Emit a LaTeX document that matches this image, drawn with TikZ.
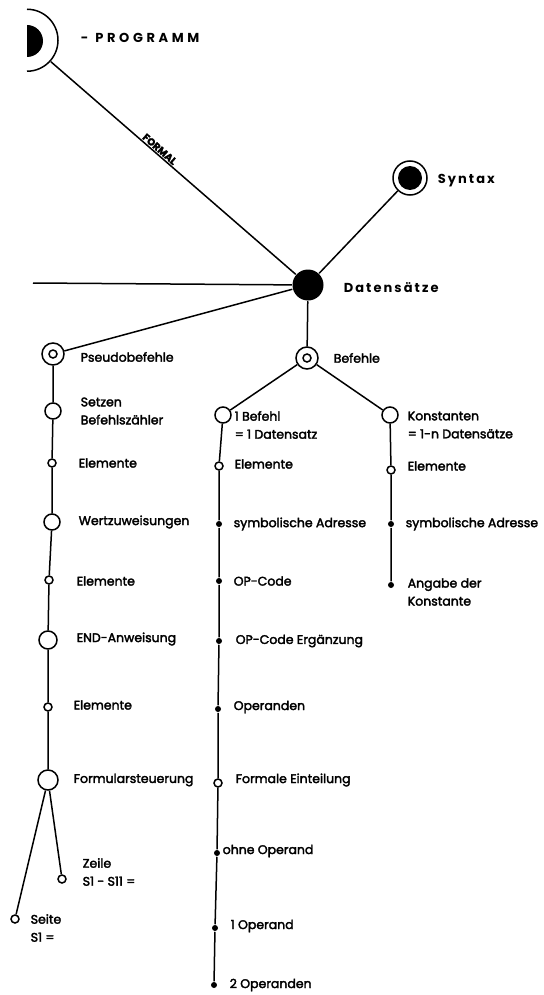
\documentclass[tikz,border=0pt]{standalone}
\usepackage{fontspec}
\setmainfont{Poppins}[FakeBold=2.5]
\newfontfamily\spacedfont{Poppins}[LetterSpace=16]
\usetikzlibrary{positioning}
\tikzset{
  txt/.style={anchor=west, inner sep=0pt, align=left, font=\fontsize{12.5}{18}\selectfont},
  spaced/.style={anchor=west, inner sep=0pt, font=\spacedfont\bfseries\fontsize{13}{15}\selectfont},
  bignode/.style={circle, fill=black, minimum size=31pt, inner sep=0pt},
  ringnode/.style={circle, draw, fill=white, minimum size=22pt, inner sep=0pt, path picture={\draw (path picture bounding box.center) circle (4pt);}},
  opennode/.style={circle, draw, fill=white, minimum size=#1, inner sep=0pt},
  opennode/.default=16pt,
  smallnode/.style={circle, draw, fill=white, minimum size=8pt, inner sep=0pt},
  dotnode/.style={circle, fill=black, minimum size=6pt, inner sep=0pt}
}

\begin{document}
\begin{tikzpicture}[x=1pt, y=-1pt, line width=1.5pt]
\useasboundingbox (0,0) rectangle (543,995);
\node[circle, minimum size=62pt, inner sep=0pt] (prog) at (27,41) {};
\draw (prog.north) arc[start angle=90, end angle=-90, radius=31pt];
\fill (27,25) arc[start angle=90, end angle=-90, radius=16pt] -- cycle;
\node[spaced] (lprog) at (80,38) {-\hspace{7pt}\addfontfeature{LetterSpace=28}PROGRAMM};
\node[bignode] (data) at (308,285) {};
\node[spaced] (ldata) at (343,288) {Datensätze};
\node[circle, draw, fill=white, minimum size=34pt, inner sep=0pt, path picture={\fill[black] (path picture bounding box.center) circle (12pt);}] (syntax) at (410,178) {};
\node[spaced] (lsyntax) at (437,181) {Syntax};
\coordinate (leftend) at (33,283);
\draw (prog) -- node[pos=0.43, sloped, above, inner sep=1pt, font=\fontsize{10}{11}\selectfont\bfseries] (lformal) {FORMAL} (data);
\draw (syntax) -- (data);
\draw (leftend) -- (data);

\node[ringnode] (pseudo) at (53,354) {};
\node[txt] (lpseudo) at (80,357) {Pseudobefehle};
\node[opennode] (setzen) at (53,411) {};
\node[txt] (lsetzen) at (80,411) {Setzen\\Befehlszähler};
\node[smallnode] (elem1) at (52,463) {};
\node[txt] (lelem1) at (78,463) {Elemente};
\node[opennode] (wert) at (52,522) {};
\node[txt] (lwert) at (78,522) {Wertzuweisungen};
\node[smallnode] (elem2) at (49,580) {};
\node[txt] (lelem2) at (76,581) {Elemente};
\node[opennode=18pt] (endanw) at (48,640) {};
\node[txt] (lendanw) at (76,639) {END-Anweisung};
\node[smallnode] (elem3) at (48,707) {};
\node[txt] (lelem3) at (73,705) {Elemente};
\node[opennode=20pt] (formular) at (48,780) {};
\node[txt] (lformular) at (73,780) {Formularsteuerung};
\node[smallnode] (zeile) at (62,879) {};
\node[txt] (lzeile) at (82,872) {Zeile\\S1 - S11 =};
\node[smallnode] (seite) at (15,919) {};
\node[txt] (lseite) at (30,928) {Seite\\S1 =};
\draw (data) -- (pseudo) -- (setzen) -- (elem1) -- (wert) -- (elem2) -- (endanw) -- (elem3) -- (formular);
\draw (formular) -- (zeile);
\draw (formular) -- (seite);

\node[ringnode] (befehle) at (307,358) {};
\node[txt] (lbefehle) at (333,358) {Befehle};
\node[opennode] (befehl) at (223,415) {};
\node[txt] (lbefehl) at (234,425) {1 Befehl\\= 1 Datensatz};
\node[smallnode] (belem) at (219,466) {};
\node[txt] (lbelem) at (234,464) {Elemente};
\node[dotnode] (badr) at (219,524) {};
\node[txt] (lbadr) at (233,524) {symbolische Adresse};
\node[dotnode] (bop) at (219,581) {};
\node[txt] (lbop) at (233,581) {OP-Code};
\node[dotnode] (berg) at (219,641) {};
\node[txt] (lberg) at (235,641) {OP-Code Ergänzung};
\node[dotnode] (boperanden) at (218,709) {};
\node[txt] (lboperanden) at (233,707) {Operanden};
\node[smallnode] (bformal) at (218,783) {};
\node[txt] (lbformal) at (235,780) {Formale Einteilung};
\node[dotnode] (bohne) at (217,853) {};
\node[txt] (lbohne) at (222,851) {ohne Operand};
\node[dotnode] (beins) at (215,928) {};
\node[txt] (lbeins) at (230,926) {1 Operand};
\node[dotnode] (bzwei) at (214,985) {};
\node[txt] (lbzwei) at (229,985) {2 Operanden};
\draw (data) -- (befehle);
\draw (befehle) -- (befehl) -- (belem) -- (badr) -- (bop) -- (berg) -- (boperanden) -- (bformal) -- (bohne) -- (beins) -- (bzwei);

\node[opennode] (konst) at (390,415) {};
\node[txt] (lkonst) at (407,425) {Konstanten\\= 1-n Datensätze};
\node[smallnode] (kelem) at (391,470) {};
\node[txt] (lkelem) at (407,466) {Elemente};
\node[dotnode] (kadr) at (391,524) {};
\node[txt] (lkadr) at (405,524) {symbolische Adresse};
\node[dotnode] (kangabe) at (391,585) {};
\node[txt] (lkangabe) at (407,592) {Angabe der\\Konstante};
\draw (befehle) -- (konst) -- (kelem) -- (kadr) -- (kangabe);
\end{tikzpicture}
\end{document}
